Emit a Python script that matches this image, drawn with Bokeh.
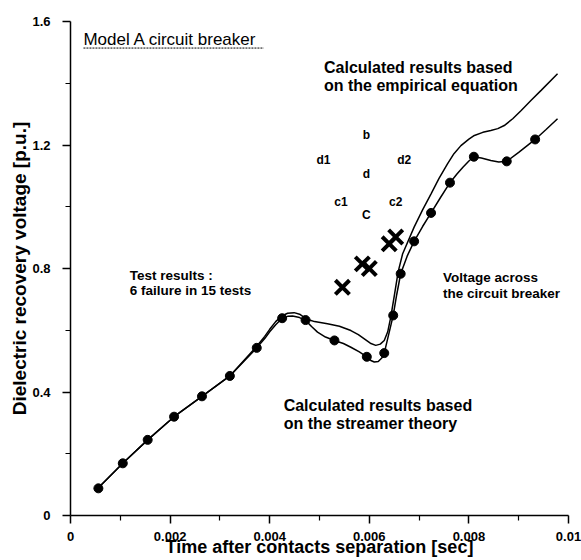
from bokeh.plotting import figure
from bokeh.models import FixedTicker, Label, Range1d
from bokeh.embed import file_html
from bokeh.resources import INLINE

# ---- data ----
# calculated results based on the empirical equation (upper curve)
emp_t = [0.00055, 0.00105, 0.00155, 0.00208, 0.00264, 0.0032, 0.00374, 0.0039, 0.0040,
         0.00412, 0.00424, 0.00436, 0.00449, 0.0046, 0.0047, 0.0048, 0.0049, 0.00516,
         0.0054, 0.00563, 0.00578, 0.0059, 0.00602, 0.00613, 0.00622, 0.0063, 0.00637,
         0.00643, 0.0065, 0.00658, 0.00667, 0.0069, 0.00707, 0.00724, 0.0074, 0.00757,
         0.0077, 0.00784, 0.008, 0.00811, 0.00828, 0.00844, 0.00858, 0.00871, 0.00888,
         0.00905, 0.00925, 0.00945, 0.00978]
emp_v = [0.088, 0.169, 0.245, 0.320, 0.386, 0.452, 0.548, 0.580, 0.603,
         0.628, 0.646, 0.655, 0.657, 0.652, 0.641, 0.633, 0.628, 0.621,
         0.613, 0.599, 0.586, 0.572, 0.558, 0.551, 0.555, 0.567, 0.595,
         0.642, 0.710, 0.790, 0.848, 0.934, 0.990, 1.042, 1.092, 1.139,
         1.172, 1.198, 1.219, 1.231, 1.241, 1.247, 1.253, 1.263, 1.285,
         1.312, 1.345, 1.377, 1.431]

# calculated results based on the streamer theory (lower curve)
str_t = [0.00055, 0.00105, 0.00155, 0.00208, 0.00264, 0.0032, 0.00374, 0.0039, 0.0040,
         0.00412, 0.00425, 0.00436, 0.00446, 0.0046, 0.00472, 0.00484, 0.00496, 0.00512,
         0.0053, 0.00548, 0.00563, 0.0058, 0.00595, 0.00603, 0.0061, 0.00618, 0.00625,
         0.0063, 0.00638, 0.00648, 0.00655, 0.00663, 0.00676, 0.0069, 0.00707, 0.00724,
         0.00743, 0.00762, 0.00776, 0.00788, 0.008, 0.0081, 0.00825, 0.00844, 0.0086,
         0.00876, 0.009, 0.00933, 0.00955, 0.00978]
str_v = [0.088, 0.169, 0.245, 0.320, 0.386, 0.452, 0.543, 0.573, 0.595,
         0.618, 0.639, 0.645, 0.646, 0.641, 0.632, 0.612, 0.594, 0.578,
         0.567, 0.557, 0.545, 0.530, 0.514, 0.502, 0.497, 0.499, 0.510,
         0.526, 0.580, 0.648, 0.715, 0.783, 0.840, 0.888, 0.936, 0.980,
         1.030, 1.078, 1.106, 1.128, 1.148, 1.162, 1.158, 1.150, 1.145,
         1.147, 1.176, 1.218, 1.250, 1.285]

# points marked on the streamer-theory curve
dot_t = [0.00056, 0.00105, 0.00155, 0.00208, 0.00264, 0.0032, 0.00374, 0.00425, 0.00472,
         0.0053, 0.00595, 0.0063, 0.00648, 0.00663, 0.0069, 0.00724, 0.00762, 0.0081,
         0.00876, 0.00933]
dot_v = [0.088, 0.169, 0.245, 0.320, 0.386, 0.452, 0.543, 0.639, 0.633,
         0.567, 0.514, 0.526, 0.648, 0.783, 0.888, 0.980, 1.078, 1.162,
         1.147, 1.218]

# test results (failures)
fail_t = [0.00546, 0.00586, 0.0060, 0.0064, 0.00653]
fail_v = [0.739, 0.815, 0.800, 0.880, 0.902]

# point labels
pt_labels = ["b", "d1", "d2", "d", "c1", "c2", "C"]
pt_t = [0.00594, 0.00508, 0.0067, 0.00594, 0.00543, 0.00653, 0.00594]
pt_v = [1.231, 1.150, 1.150, 1.107, 1.017, 1.017, 0.974]

x_ticks = [0, 0.002, 0.004, 0.006, 0.008, 0.01]
x_tick_labels = ["0", "0.002", "0.004", "0.006", "0.008", "0.01"]
y_ticks = [0, 0.4, 0.8, 1.2, 1.6]
y_tick_labels = ["0", "0.4", "0.8", "1.2", "1.6"]

x_title = "Time after contacts separation [sec]"
y_title = "Dielectric recovery voltage [p.u.]"

FONT = "Liberation Sans"

p = figure(width=581, height=560, output_backend="svg", toolbar_location=None,
           x_range=Range1d(0, 0.01), y_range=Range1d(0, 1.6),
           min_border_left=70, min_border_right=13, min_border_top=21, min_border_bottom=45)
p.outline_line_color = None
p.grid.visible = False
p.background_fill_color = "white"
p.border_fill_color = "white"

p.line(emp_t, emp_v, line_color="black", line_width=1.5)
p.line(str_t, str_v, line_color="black", line_width=1.5)
p.scatter(dot_t, dot_v, size=9, marker="circle", fill_color="black", line_color="black")
p.scatter(fail_t, fail_v, size=20, marker="x", line_color="black", line_width=4)

for lab, t, v in zip(pt_labels, pt_t, pt_v):
    p.add_layout(Label(x=t, y=v, text=lab, text_font=FONT, text_font_size="12px",
                       text_font_style="bold", text_color="black",
                       text_align="center", text_baseline="middle"))

def txt(x, y, s, size="13px", style="bold"):
    p.add_layout(Label(x=x, y=y, text=s, text_font=FONT, text_font_size=size,
                       text_font_style=style, text_color="black",
                       text_align="left", text_baseline="middle"))

txt(0.00026, 1.542, "Model A circuit breaker", size="17px", style="normal")
p.segment(x0=[0.00026], y0=[1.514], x1=[0.00388], y1=[1.514], line_color="black", line_width=1,
          line_dash="2 1")
txt(0.00509, 1.451, "Calculated results based", size="16px")
txt(0.00509, 1.393, "on the empirical equation", size="16px")
txt(0.00119, 0.777, "Test results :", size="13.5px")
txt(0.00119, 0.729, "6 failure in 15 tests", size="13.5px")
txt(0.00748, 0.771, "Voltage across", size="13.5px")
txt(0.00748, 0.719, "the circuit breaker", size="13.5px")
txt(0.00428, 0.356, "Calculated results based", size="16px")
txt(0.00428, 0.298, "on the streamer theory", size="16px")

for ax, ticks, labels, minor in ((p.xaxis[0], x_ticks, x_tick_labels, [0.001, 0.003, 0.005, 0.007, 0.009]),
                                 (p.yaxis[0], y_ticks, y_tick_labels, [0.2, 0.6, 1.0, 1.4])):
    ax.ticker = FixedTicker(ticks=ticks, minor_ticks=minor)
    ax.major_label_overrides = {t: l for t, l in zip(ticks, labels)}
    ax.axis_line_width = 1.5
    ax.axis_line_color = "black"
    ax.major_tick_line_color = "black"
    ax.minor_tick_line_color = "black"
    ax.major_tick_line_width = 1.5
    ax.minor_tick_line_width = 1.2
    ax.major_tick_out = 8
    ax.major_tick_in = 0
    ax.minor_tick_out = 5
    ax.minor_tick_in = 0
    ax.major_label_text_font = FONT
    ax.major_label_text_font_style = "bold"
    ax.major_label_text_font_size = "13px"
    ax.major_label_text_color = "black"
    ax.axis_label_text_font = FONT
    ax.axis_label_text_font_style = "bold"
    ax.axis_label_text_color = "black"

p.xaxis.axis_label = x_title
p.yaxis.axis_label = y_title
p.xaxis.axis_label_text_font_size = "18px"
p.yaxis.axis_label_text_font_size = "19px"
p.xaxis.major_label_standoff = 8
p.xaxis.axis_label_standoff = -7
p.yaxis.major_label_standoff = 12
p.yaxis.axis_label_standoff = -1

open("out.html", "w").write(file_html(p, INLINE))
